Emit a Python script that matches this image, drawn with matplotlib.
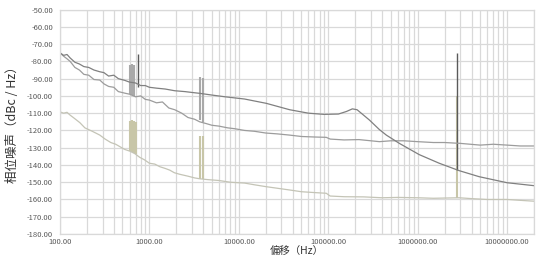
import matplotlib
matplotlib.use("Agg")
import matplotlib.pyplot as plt
from matplotlib.ticker import FixedLocator, LogLocator, NullFormatter, FuncFormatter

plt.rcParams['font.family'] = ['Noto Sans CJK SC', 'DejaVu Sans']

# ---- data ----
freq_a = [100, 110, 120, 130, 147, 165, 185, 210, 240, 279, 310, 350, 400, 450, 531, 600, 700, 800,
          900, 1000, 1200, 1500, 1920, 2500, 3000, 3650, 5000, 7000, 11600, 20300, 37000, 60000,
          90000, 130000, 160000, 186000, 210000, 240000, 289000, 373000, 446000, 624000, 1.04e6,
          1.74e6, 2.91e6, 4.87e6, 1e7, 2e7]
noise_a = [-75.0, -76.5, -76.0, -78.0, -80.5, -81.5, -83.0, -83.5, -85.0, -86.0, -86.5, -88.5, -88.0,
           -90.0, -91.0, -92.0, -92.5, -94.0, -94.0, -95.0, -95.5, -96.0, -97.0, -97.5, -98.0, -98.5,
           -99.5, -100.5, -101.8, -104.3, -108.0, -110.0, -110.7, -110.5, -109.0, -107.5, -108.0,
           -110.5, -114.0, -119.5, -122.7, -127.5, -134.0, -139.0, -143.3, -146.8, -150.3, -152.0]

freq_b = [100, 110, 120, 130, 147, 165, 185, 210, 240, 279, 310, 350, 400, 450, 531, 600, 700, 800,
          900, 1000, 1200, 1400, 1650, 1920, 2300, 2700, 3200, 3650, 4300, 5000, 6000, 7500, 9000,
          11600, 15000, 20000, 27000, 37000, 50000, 70000, 95000, 105000, 150000, 220000, 300000,
          373000, 500000, 700000, 1e6, 1.5e6, 2e6, 3e6, 5e6, 7e6, 1e7, 1.4e7, 2e7]
noise_b = [-75.0, -77.0, -78.5, -80.0, -83.5, -85.0, -87.5, -88.0, -90.5, -90.8, -93.0, -94.5, -95.0,
           -97.5, -98.4, -99.0, -100.5, -100.0, -102.0, -102.4, -104.0, -103.5, -107.0, -108.0, -110.0,
           -112.5, -113.5, -115.0, -116.0, -117.0, -117.5, -118.5, -119.0, -120.0, -120.5, -121.5,
           -122.0, -122.7, -123.5, -123.8, -124.0, -125.0, -125.5, -125.3, -126.0, -126.5, -126.0,
           -126.0, -126.5, -127.0, -127.0, -127.5, -128.5, -128.0, -128.5, -129.0, -129.0]

freq_c = [100, 110, 120, 129, 145, 167, 190, 230, 279, 320, 370, 420, 468, 530, 604, 690, 781, 880,
          1000, 1150, 1306, 1500, 1690, 1900, 2184, 2700, 3200, 3650, 4500, 6000, 8000, 11600, 15000,
          20300, 27000, 37000, 50000, 70000, 95000, 105000, 150000, 250000, 400000, 600000, 1e6,
          1.5e6, 2.9e6, 4e6, 6e6, 1e7, 1.4e7, 2e7]
noise_c = [-109.2, -110.0, -109.5, -111.0, -113.0, -115.5, -118.5, -120.5, -122.7, -125.0, -127.0,
           -128.0, -129.4, -131.0, -132.0, -133.5, -135.6, -137.0, -139.0, -139.5, -141.0, -142.0,
           -143.0, -144.5, -145.4, -146.5, -147.5, -148.0, -148.5, -149.0, -150.0, -150.5, -151.5,
           -152.6, -153.5, -154.5, -155.5, -156.0, -156.4, -158.0, -158.4, -158.5, -159.0, -158.8,
           -159.0, -159.3, -159.0, -159.5, -160.0, -160.0, -160.5, -161.0]

# spurs: frequency, bottom value, top value
spur_a_freq = [737, 2.77e6]
spur_a_base = [-95.0, -143.0]
spur_a_top = [-76.0, -75.0]

spur_b_freq = [604, 640, 672, 3650, 3950]
spur_b_base = [-99.0, -99.5, -100.0, -114.0, -115.0]
spur_b_top = [-82.0, -81.5, -82.0, -89.0, -89.5]

spur_c_freq = [604, 640, 672, 700, 3700, 3950, 2.77e6]
spur_c_base = [-132.0, -132.5, -133.0, -133.5, -148.0, -148.0, -159.0]
spur_c_top = [-114.5, -114.0, -114.5, -115.0, -123.0, -123.5, -100.0]

x_ticks = [1e2, 1e3, 1e4, 1e5, 1e6, 1e7]
y_ticks = list(range(-180, -49, 10))

# ---- figure ----
fig = plt.figure(figsize=(5.5, 2.6), dpi=100)
ax = fig.add_axes([0.109, 0.1, 0.862, 0.863])

grid_col = '#d9d9d9'
ax.set_xscale('log')
ax.set_xlim(100, 2e7)
ax.set_ylim(-180, -50)
ax.xaxis.set_major_locator(FixedLocator(x_ticks))
ax.xaxis.set_minor_locator(LogLocator(base=10, subs=range(2, 10), numticks=20))
ax.xaxis.set_minor_formatter(NullFormatter())
ax.xaxis.set_major_formatter(FuncFormatter(lambda v, p: f"{v:.2f}"))
ax.yaxis.set_major_locator(FixedLocator(y_ticks))
ax.yaxis.set_major_formatter(FuncFormatter(lambda v, p: f"{v:.2f}"))
ax.grid(True, which='major', axis='both', color=grid_col, lw=0.9)
ax.grid(True, which='minor', axis='x', color=grid_col, lw=0.9)
ax.set_axisbelow(True)
ax.tick_params(which='both', length=0, labelsize=5.5, labelcolor='#595959')
ax.tick_params(axis='x', pad=3)
ax.tick_params(axis='y', pad=5)
for s in ax.spines.values():
    s.set_color(grid_col)
    s.set_linewidth(0.9)

# spurs
ax.vlines(spur_c_freq, spur_c_base, spur_c_top, colors='#c8c6a8', lw=1.5)
ax.vlines(spur_b_freq, spur_b_base, spur_b_top, colors='#a9a9a9', lw=1.5)
ax.vlines(spur_a_freq, spur_a_base, spur_a_top, colors='#5a5a5a', lw=1.0)

# curves
ax.plot(freq_c, noise_c, color='#c4c4b6', lw=0.9)
ax.plot(freq_b, noise_b, color='#9c9c9c', lw=0.9)
ax.plot(freq_a, noise_a, color='#808080', lw=0.9)

ax.set_xlabel('偏移（Hz）', fontsize=7.5, color='#333333', labelpad=0)
ax.set_ylabel('相位噪声（dBc / Hz）', fontsize=9, color='#333333', labelpad=6)

fig.savefig('out.png', dpi=100)
